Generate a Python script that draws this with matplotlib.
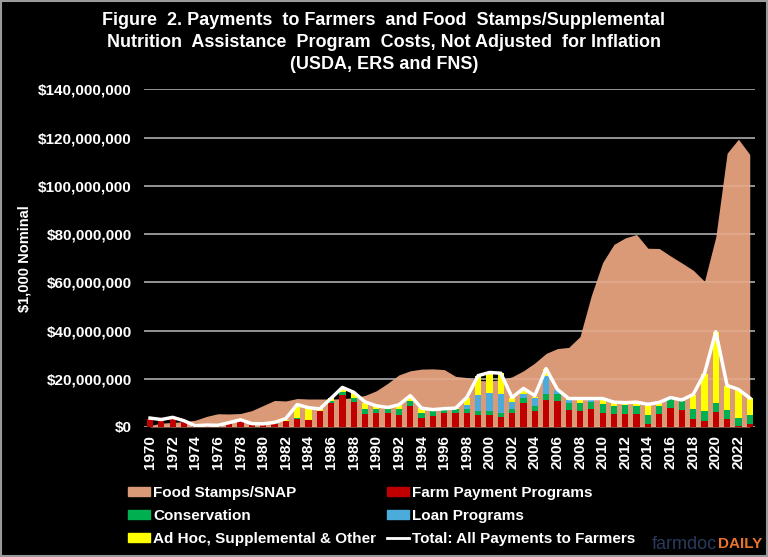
import matplotlib
matplotlib.use("Agg")
import matplotlib.pyplot as plt
from matplotlib.patches import Patch, Rectangle
from matplotlib.lines import Line2D
from matplotlib.ticker import FuncFormatter
import numpy as np

# values in billions of dollars (axis is in $1,000, so x 1e6)
years = list(range(1970, 2024))
snap = [0.6, 1.6, 1.9, 2.2, 2.8, 4.4, 5.5, 5.4, 5.6, 6.8,
        8.9, 11.0, 10.8, 11.8, 11.6, 11.6, 11.6, 11.7, 12.2, 13.1,
        15.0, 18.1, 21.6, 23.3, 24.0, 24.1, 23.8, 21.0, 20.5, 19.3,
        19.1, 19.6, 20.8, 23.3, 26.5, 30.5, 32.5, 33.0, 37.5, 54.5,
        68.2, 75.7, 78.4, 79.8, 74.1, 74.0, 70.9, 68.0, 65.0, 60.4,
        78.8, 113.5, 119.3, 113.0]
farm = [3.2, 2.3, 3.5, 1.9, 0.3, 0.6, 0.5, 1.5, 2.3, 1.0,
        1.0, 1.1, 2.6, 3.3, 2.8, 6.6, 10.1, 13.1, 10.5, 5.5,
        5.9, 5.9, 5.1, 8.8, 3.9, 4.6, 5.9, 5.9, 5.9, 4.8,
        4.8, 4.0, 5.8, 10.1, 6.8, 11.2, 10.9, 7.0, 6.8, 7.3,
        5.9, 5.2, 5.5, 5.2, 1.4, 5.2, 8.0, 6.9, 3.5, 2.6,
        6.2, 3.2, 0.4, 1.4]
conservation = [0.3, 0.0, 0.0, 0.0, 0.0, 0.0, 0.0, 0.0, 0.0, 0.0,
                0.0, 0.4, 0.0, 0.4, 0.0, 0.0, 0.7, 1.5, 1.7, 1.8,
                1.7, 1.7, 2.2, 1.9, 2.1, 1.9, 1.4, 1.4, 1.4, 1.8,
                1.8, 1.8, 1.8, 1.8, 1.9, 2.5, 2.6, 3.0, 3.3, 3.2,
                3.5, 3.5, 3.6, 3.7, 3.5, 3.5, 3.6, 3.9, 3.9, 4.0,
                3.9, 3.9, 3.5, 3.5]
loan = [0.0, 0.0, 0.0, 0.0, 0.0, 0.0, 0.0, 0.0, 0.0, 0.0,
        0.0, 0.0, 0.0, 0.0, 0.0, 0.0, 0.0, 0.0, 0.0, 0.0,
        0.0, 0.0, 0.0, 0.0, 0.0, 0.0, 0.0, 0.0, 1.8, 6.5,
        7.3, 7.9, 2.9, 1.7, 3.2, 7.6, 1.8, 1.1, 0.0, 1.1,
        0.0, 0.0, 0.0, 0.0, 0.0, 0.0, 0.0, 0.0, 0.0, 0.0,
        0.0, 0.0, 0.0, 0.0]
adhoc = [0.0, 0.0, 0.0, 0.0, 0.0, 0.0, 0.0, 0.0, 0.0, 0.0,
         0.0, 0.0, 0.5, 5.1, 4.8, 0.7, 1.1, 1.4, 2.1, 2.8,
         1.1, 0.5, 1.7, 1.8, 1.7, 0.6, 0.3, 0.4, 2.8, 8.0,
         8.6, 8.6, 1.7, 2.1, 0.4, 2.8, 0.0, 0.3, 1.5, 0.3,
         2.1, 1.1, 0.8, 1.2, 4.3, 1.1, 0.5, 0.4, 5.9, 15.3,
         29.4, 9.9, 11.5, 7.0]
total = [3.7, 3.1, 4.0, 2.6, 0.5, 0.8, 0.7, 1.8, 3.0, 1.4,
         1.3, 1.9, 3.5, 9.3, 8.0, 7.5, 11.9, 16.4, 14.4, 10.4,
         8.8, 8.1, 9.2, 13.0, 7.8, 7.2, 7.6, 7.8, 12.3, 21.3,
         22.6, 22.3, 12.2, 16.0, 13.0, 24.2, 15.6, 11.8, 11.8, 11.8,
         11.8, 10.3, 10.1, 10.3, 9.4, 10.2, 12.2, 11.2, 13.5, 22.2,
         39.5, 17.2, 15.6, 12.0]
title_lines = ["Figure  2. Payments  to Farmers  and Food  Stamps/Supplemental",
               "Nutrition  Assistance  Program  Costs, Not Adjusted  for Inflation",
               "(USDA, ERS and FNS)"]

plt.rcParams["font.family"] = ["Liberation Sans", "DejaVu Sans"]

scale = 1e6
x = np.arange(len(years))
s = lambda v: np.array(v) * scale

fig = plt.figure(figsize=(7.68, 5.57), dpi=100, facecolor="black")
ax = fig.add_axes([0.188, 0.2334, 0.7956, 0.6063], facecolor="black")

for v in range(0, 140000001, 20000000):
    ax.axhline(v, color="#8c8c8c", lw=1.3, zorder=0)

ax.fill_between(x, 0, s(snap), color="#DA9A77", lw=0, zorder=1)
for v in range(0, 140000001, 20000000):
    ax.axhline(v, color="white", lw=1.3, alpha=0.15, zorder=2)

w = 0.55
b = np.zeros(len(years))
for vals, col in [(farm, "#C00000"), (conservation, "#00B050"),
                  (loan, "#4BACDC"), (adhoc, "#FFFF00")]:
    ax.bar(x, s(vals), w, bottom=b, color=col, zorder=3)
    b = b + s(vals)

ax.plot(x, s(total), color="white", lw=2.5, zorder=4)

ax.set_xlim(-0.5, len(years) - 0.5)
ax.set_ylim(0, 140000000)
ax.set_yticks(range(0, 140000001, 20000000))
ax.yaxis.set_major_formatter(FuncFormatter(lambda v, p: "${:,.0f}".format(v)))
ax.set_xticks(x[::2])
ax.set_xticklabels([str(y) for y in years[::2]], rotation=90)
ax.tick_params(colors="white", length=0, labelsize=11)
ax.tick_params(axis="y", pad=9)
ax.tick_params(axis="x", pad=6)
for lab in ax.get_xticklabels() + ax.get_yticklabels():
    lab.set_fontweight("bold")
for sp in ax.spines.values():
    sp.set_visible(False)
ax.set_ylabel("$1,000 Nominal", color="white", fontsize=10.5, fontweight="bold", labelpad=5)

for yy, line in zip([0.9628, 0.9233, 0.885], title_lines):
    fig.text(0.5, yy, line, ha="center", va="center", color="white",
             fontsize=13, fontweight="bold")

handles = [Patch(color="#DA9A77"), Patch(color="#00B050"), Patch(color="#FFFF00"),
           Patch(color="#C00000"), Patch(color="#4BACDC"),
           Line2D([], [], color="white", lw=2)]
labels = ["Food Stamps/SNAP", "Conservation", "Ad Hoc, Supplemental & Other",
          "Farm Payment Programs", "Loan Programs", "Total: All Payments to Farmers"]
leg = fig.legend(handles, labels, ncol=2, loc="upper left", bbox_to_anchor=(0.153, 0.147),
                 frameon=False, handlelength=1.45, handleheight=0.5, handletextpad=0.2,
                 columnspacing=0.7, labelspacing=0.6, borderpad=0.2,
                 prop={"weight": "bold", "size": 11})
for t in leg.get_texts():
    t.set_color("white")

fig.text(0.849, 0.023, "farmdoc", color="#2B3A5C", fontsize=13, ha="left", va="center")
fig.text(0.935, 0.023, "DAILY", color="#E8742A", fontsize=11, fontweight="bold", ha="left", va="center")

fig.add_artist(Rectangle((0.001, 0.001), 0.998, 0.998, transform=fig.transFigure,
                         fill=False, edgecolor="#9a9a9a", lw=1.5))

fig.savefig("out.png", dpi=100, facecolor="black")
